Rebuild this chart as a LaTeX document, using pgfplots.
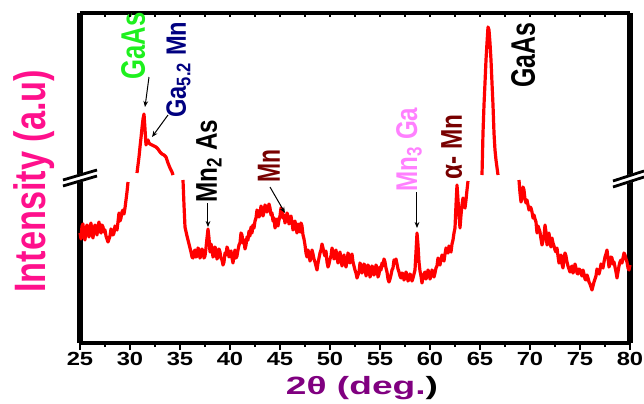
\documentclass[border=0pt]{standalone}
\usepackage{fontspec}
\setmainfont{Liberation Sans}
\usepackage{graphicx}
\usepackage{pgfplots}
\pgfplotsset{compat=1.18}
\usepackage{pgfplotstable}
\usetikzlibrary{arrows.meta}

\definecolor{xrdred}{RGB}{255,0,0}
\definecolor{gaasgreen}{RGB}{30,240,30}
\definecolor{navyblue}{RGB}{0,0,128}
\definecolor{maroon}{RGB}{120,0,0}
\definecolor{lightpink}{RGB}{255,128,255}
\definecolor{ylabpink}{RGB}{255,16,140}
\definecolor{xlabpurple}{RGB}{128,0,128}

% 2theta (deg) vs intensity (arb.), nan = gap at the axis break
\pgfplotstableread{
x y
25.0 110
25.1 104
25.2 117
25.3 119
25.4 107
25.5 103
25.6 114
25.7 118
25.8 110
25.9 106
26.0 116
26.1 120
26.2 109
26.3 105
26.4 114
26.5 118
26.6 112
26.7 108
26.8 117
26.9 121
27.0 113
27.1 110
27.2 118
27.3 116
27.4 111
27.5 113
27.6 107
27.7 104
27.8 101
27.9 104
28.0 107
28.1 114
28.2 112
28.3 108
28.4 110
28.5 117
28.6 115
28.7 113
28.8 121
28.9 130
29.0 122
29.1 125
29.2 131
29.3 133
29.4 129
29.5 135
29.6 143
29.7 151
29.8 161
29.9 nan
30.7 170
30.8 178
30.9 186
31.0 196
31.1 205
31.2 215
31.3 224
31.4 229
31.5 214
31.6 198
31.7 202
31.8 203
31.9 200
32.0 199
32.2 198
32.4 197
32.6 196
32.8 194
33.0 191
33.2 189
33.4 188
33.6 186
33.8 180
34.0 175
34.2 171
34.3 168
34.5 nan
35.3 163
35.4 138
35.5 116
35.7 107
35.9 99
36.1 91
36.2 86
36.3 85
36.4 91
36.5 93
36.6 86
36.7 87
36.8 95
36.9 93
37.0 85
37.1 88
37.2 94
37.3 91
37.4 85
37.5 87
37.6 95
37.7 105
37.8 114
37.9 105
38.0 91
38.1 99
38.2 95
38.3 86
38.4 88
38.5 96
38.6 93
38.7 84
38.8 87
38.9 94
39.0 91
39.1 85
39.2 83
39.3 78
39.4 81
39.5 90
39.6 88
39.7 96
39.8 93
39.9 86
40.0 90
40.1 92
40.2 85
40.3 80
40.4 88
40.5 93
40.6 85
40.7 87
40.8 93
40.9 98
41.0 100
41.1 110
41.2 108
41.3 100
41.4 103
41.5 94
41.6 98
41.7 106
41.8 103
41.9 112
42.0 107
42.1 116
42.2 110
42.3 118
42.4 115
42.5 122
42.6 125
42.7 133
42.8 130
42.9 126
43.0 129
43.1 137
43.2 133
43.3 127
43.4 131
43.5 138
43.6 136
43.7 131
43.8 134
43.9 139
44.0 135
44.1 128
44.2 130
44.3 122
44.4 125
44.5 115
44.6 119
44.7 124
44.8 117
44.9 123
45.0 127
45.1 135
45.2 132
45.3 125
45.4 128
45.5 120
45.6 124
45.7 130
45.8 127
45.9 119
46.0 123
46.1 127
46.2 121
46.3 113
46.4 117
46.5 122
46.6 115
46.7 110
46.8 119
46.9 114
47.0 111
47.1 120
47.2 117
47.3 108
47.4 104
47.5 98
47.6 90
47.7 86
47.8 93
47.9 89
48.0 82
48.1 85
48.2 93
48.3 89
48.4 84
48.5 81
48.6 77
48.7 73
48.8 80
48.9 85
49.0 90
49.1 93
49.2 99
49.3 95
49.4 90
49.5 87
49.6 92
49.7 81
49.8 76
49.9 79
50.0 84
50.1 87
50.2 95
50.3 91
50.4 84
50.5 89
50.6 93
50.7 85
50.8 80
50.9 87
51.0 91
51.1 83
51.2 77
51.3 85
51.4 88
51.5 80
51.6 76
51.7 81
51.8 90
51.9 87
52.0 80
52.1 85
52.2 89
52.3 81
52.4 77
52.5 73
52.6 70
52.7 65
52.8 68
52.9 71
53.0 80
53.1 77
53.2 70
53.3 73
53.4 79
53.5 77
53.6 67
53.7 71
53.8 78
53.9 75
54.0 66
54.1 69
54.2 77
54.3 75
54.4 68
54.5 71
54.6 78
54.7 75
54.8 66
54.9 69
55.0 76
55.1 73
55.2 80
55.3 77
55.4 84
55.5 81
55.6 75
55.7 71
55.8 64
55.9 61
56.0 64
56.1 68
56.2 73
56.3 75
56.4 83
56.5 81
56.6 84
56.7 79
56.8 74
56.9 71
57.0 67
57.1 65
57.2 70
57.3 69
57.4 63
57.5 66
57.6 71
57.7 68
57.8 62
57.9 64
58.0 69
58.1 67
58.2 62
58.3 65
58.4 69
58.5 73
58.6 91
58.7 110
58.8 98
58.9 81
59.0 72
59.1 67
59.2 60
59.3 65
59.4 69
59.5 71
59.6 64
59.7 67
59.8 73
59.9 70
60.0 64
60.1 67
60.2 73
60.3 71
60.4 66
60.5 70
60.6 75
60.7 77
60.8 85
60.9 81
61.0 78
61.1 83
61.2 88
61.3 85
61.4 82
61.5 89
61.6 95
61.7 93
61.8 90
61.9 97
62.0 94
62.1 91
62.2 99
62.3 103
62.4 110
62.5 115
62.6 138
62.7 158
62.8 143
62.9 128
63.0 115
63.1 128
63.2 138
63.3 145
63.4 138
63.5 135
63.6 143
63.7 153
63.8 162
63.9 nan
65.2 168
65.3 210
65.4 238
65.5 260
65.6 283
65.7 300
65.8 316
65.9 313
66.0 300
66.1 283
66.2 260
66.3 238
66.4 210
66.5 193
66.6 183
66.8 168
66.9 nan
68.9 163
69.0 150
69.1 141
69.2 145
69.3 156
69.4 153
69.5 144
69.6 140
69.7 143
69.8 138
69.9 133
70.0 136
70.1 135
70.2 131
70.3 125
70.4 128
70.5 124
70.6 121
70.7 110
70.8 117
70.9 114
71.0 111
71.1 104
71.2 98
71.3 102
71.4 107
71.5 118
71.6 111
71.7 98
71.8 103
71.9 110
72.0 100
72.1 96
72.2 105
72.3 100
72.4 97
72.5 93
72.6 91
72.7 95
72.8 87
72.9 80
73.0 83
73.1 88
73.2 79
73.3 75
73.4 85
73.5 90
73.6 87
73.7 81
73.8 77
73.9 74
74.0 71
74.1 75
74.2 77
74.3 70
74.4 73
74.5 79
74.6 75
74.7 70
74.8 69
74.9 74
75.0 73
75.1 70
75.2 67
75.3 73
75.4 69
75.5 64
75.6 63
75.7 68
75.8 65
75.9 61
76.0 59
76.1 56
76.2 53
76.3 57
76.4 61
76.5 64
76.6 67
76.7 74
76.8 71
76.9 69
77.0 73
77.1 79
77.2 77
77.3 75
77.4 81
77.5 86
77.6 89
77.7 93
77.8 85
77.9 76
78.0 79
78.1 86
78.2 85
78.3 79
78.4 81
78.5 76
78.6 71
78.7 65
78.8 71
78.9 77
79.0 81
79.1 83
79.2 80
79.3 85
79.4 90
79.5 88
79.6 84
79.7 81
79.8 75
79.9 73
80.0 78
}\xrd

\tikzset{lbl/.style={rotate=90, anchor=base west, inner sep=0pt}}

\begin{document}
\begin{tikzpicture}
\begin{axis}[
    width=275pt, height=165pt, scale only axis,
    xmin=25, xmax=80, ymin=0, ymax=330,
    separate axis lines,
    x axis line style={line width=1.7pt},
    y axis line style={line width=2.6pt},
    xtick={25,30,...,80},
    minor xtick={27.5,32.5,...,77.5},
    xtick pos=bottom,
    ytick=\empty,
    tick align=outside,
    major tick length=3.5pt,
    minor tick length=2pt,
    every tick/.style={black, line width=1.1pt},
    /pgf/number format/assume math mode=true,
    x tick label style={font=\bfseries\fontsize{9.5}{10}\selectfont, xscale=1.25, yshift=2.5pt},
    unbounded coords=jump,
    clip=false,
]
\addplot[xrdred, line width=1.6pt, line join=round, no markers] table[x=x, y=y] {\xrd};

% axis break marks (left)
\draw[white, line width=4pt] (axis cs:23.3,160) -- (axis cs:26.7,170);
\draw[black, line width=1.4pt] (axis cs:23.3,157) -- (axis cs:26.7,167);
\draw[black, line width=1.4pt] (axis cs:23.3,163) -- (axis cs:26.7,173);
% axis break marks (right)
\draw[white, line width=4pt] (axis cs:78.3,159) -- (axis cs:81.4,169);
\draw[black, line width=1.4pt] (axis cs:78.3,156) -- (axis cs:81.4,166);
\draw[black, line width=1.4pt] (axis cs:78.3,162) -- (axis cs:81.4,172);

% peak labels
\node[lbl, text=gaasgreen, font=\bfseries\fontsize{17}{17}\selectfont] at (axis cs:31.5,263) {\resizebox{33.5pt}{\height}{GaAs}};
\node[lbl, text=navyblue, font=\bfseries\fontsize{14}{14}\selectfont] at (axis cs:35.6,225) {\resizebox{48pt}{\height}{Ga\textsubscript{5.2} Mn}};
\node[lbl, text=black, font=\bfseries\fontsize{15}{15}\selectfont] at (axis cs:38.7,140) {\resizebox{41.5pt}{\height}{Mn\textsubscript{2} As}};
\node[lbl, text=maroon, font=\bfseries\fontsize{16}{16}\selectfont] at (axis cs:45.0,160) {\resizebox{16.5pt}{\height}{Mn}};
\node[lbl, text=lightpink, font=\bfseries\fontsize{15}{15}\selectfont] at (axis cs:58.7,151) {\resizebox{42pt}{\height}{Mn\textsubscript{3} Ga}};
\node[lbl, text=maroon, font=\bfseries\fontsize{15}{15}\selectfont] at (axis cs:63.2,163) {\resizebox{32.5pt}{\height}{α- Mn}};
\node[lbl, text=black, font=\bfseries\fontsize{17}{17}\selectfont] at (axis cs:70.5,255) {\resizebox{32.5pt}{\height}{GaAs}};

% arrows
\draw[-{Stealth[length=3pt,width=2.4pt]}, line width=0.5pt, black] (axis cs:31.9,266) -- (axis cs:31.5,236);
\draw[-{Stealth[length=3pt,width=2.4pt]}, line width=0.5pt, black] (axis cs:33.8,228) -- (axis cs:32.2,206);
\draw[-{Stealth[length=3pt,width=2.4pt]}, line width=0.5pt, black] (axis cs:37.8,140) -- (axis cs:37.8,116);
\draw[-{Stealth[length=3pt,width=2.4pt]}, line width=0.5pt, black] (axis cs:44.0,156) -- (axis cs:45.5,130);
\draw[-{Stealth[length=3pt,width=2.4pt]}, line width=0.5pt, black] (axis cs:58.7,151) -- (axis cs:58.7,115);

% axis labels
\node[rotate=90, anchor=center, inner sep=0pt, text=ylabpink, font=\bfseries\fontsize{22}{22}\selectfont]
  at ([xshift=-23pt]rel axis cs:0,0.49) {\resizebox{111.5pt}{\height}{Intensity (a.u)}};
\node[anchor=base, inner sep=0pt, font=\bfseries\fontsize{12.5}{12.5}\selectfont]
  at ([yshift=-25.5pt]axis cs:53.2,0) {\resizebox{76pt}{\height}{\textcolor{xlabpurple}{2θ (deg.}\textcolor{black}{)}}};

\coordinate (bbsw) at (axis cs:17,-60);
\coordinate (bbne) at (axis cs:81.4,343);
\end{axis}

% top ticks, no labels
\begin{axis}[
    width=275pt, height=165pt, scale only axis,
    xmin=25, xmax=80, ymin=0, ymax=330,
    axis line style={draw=none},
    xtick={25,27.5,...,80},
    xtick pos=top,
    ytick=\empty,
    xticklabels={},
    tick align=inside,
    major tick length=2pt,
    every tick/.style={black, line width=0.8pt},
]
\end{axis}

\pgfresetboundingbox
\path[use as bounding box] (bbsw) rectangle (bbne);
\end{tikzpicture}
\end{document}
